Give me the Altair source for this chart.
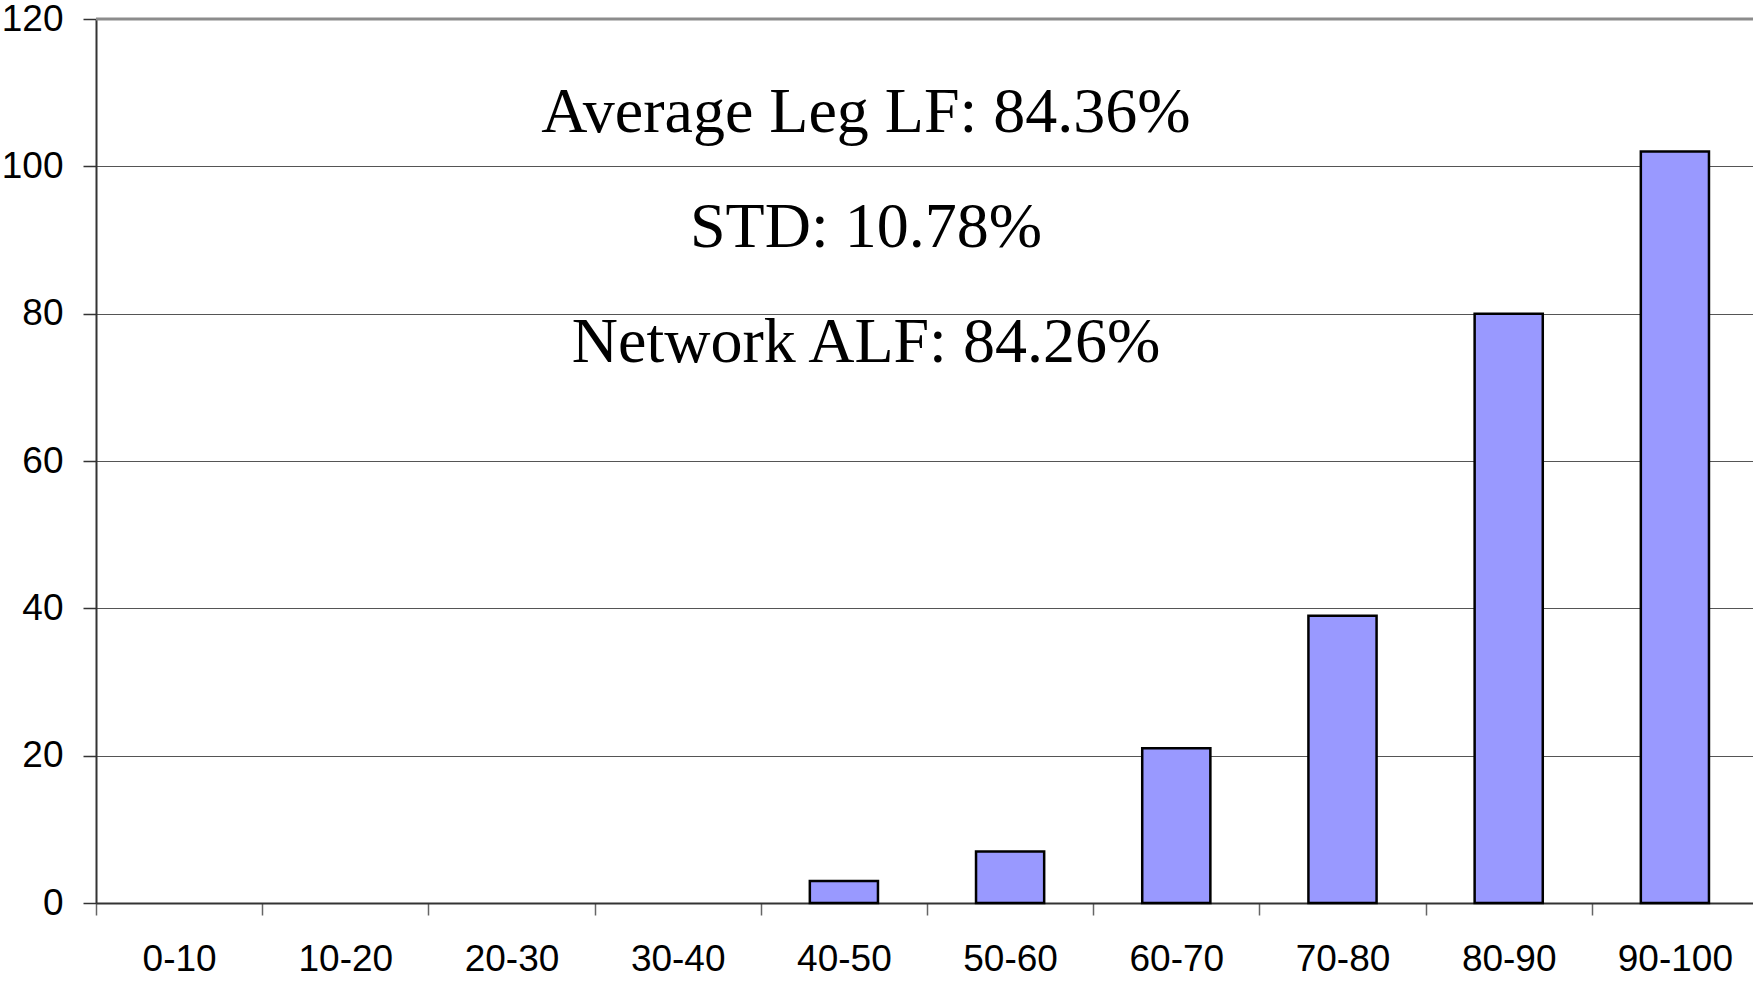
import altair as alt
import pandas as pd

categories = ["0-10", "10-20", "20-30", "30-40", "40-50", "50-60", "60-70", "70-80", "80-90", "90-100"]
counts = [0, 0, 0, 0, 3, 7, 21, 39, 80, 102]

notes = ["Average Leg LF: 84.36%", "STD: 10.78%", "Network ALF: 84.26%"]
note_levels = [104.7, 89.0, 73.5]

df = pd.DataFrame({"range": categories, "count": counts})
notes_df = pd.DataFrame({"text": notes, "level": note_levels})

W, H = 1662, 884

x_enc = alt.X(
    "range:N",
    sort=categories,
    scale=alt.Scale(domain=categories, paddingInner=0, paddingOuter=0),
    axis=alt.Axis(
        title=None,
        labelAngle=0,
        labelFont="Liberation Sans",
        labelFontSize=37,
        labelColor="black",
        labelPadding=26,
        tickBand="extent",
        tickSize=12,
        tickColor="#666666",
        tickWidth=1.5,
        domainColor="#333333",
        domainWidth=2,
        grid=False,
    ),
)
y_scale = alt.Scale(domain=[0, 120], nice=False)

bars = (
    alt.Chart(df)
    .transform_filter("datum.count > 0")
    .mark_bar(
        width=alt.RelativeBandSize(0.41),
        color="#9999ff",
        stroke="black",
        strokeWidth=2.5,
    )
    .encode(
        x=x_enc,
        y=alt.Y(
            "count:Q",
            scale=y_scale,
            axis=alt.Axis(
                title=None,
                values=[0, 20, 40, 60, 80, 100, 120],
                labelFont="Liberation Sans",
                labelFontSize=37,
                labelColor="black",
                labelPadding=20,
                tickSize=13,
                tickColor="#333333",
                tickWidth=1.5,
                domainColor="#333333",
                domainWidth=2,
                grid=True,
                gridColor="#555555",
                gridWidth=1.2,
            ),
        ),
    )
)

top_line = (
    alt.Chart(pd.DataFrame({"v": [120]}))
    .mark_rule(color="#8c8c8c", strokeWidth=3)
    .encode(y=alt.Y("v:Q", scale=y_scale))
)

texts = (
    alt.Chart(notes_df)
    .mark_text(
        font="Liberation Serif",
        fontSize=64,
        color="black",
        align="center",
        baseline="alphabetic",
    )
    .encode(
        x=alt.value(770),
        y=alt.Y("level:Q", scale=y_scale),
        text="text:N",
    )
)

chart = (
    alt.layer(bars, top_line, texts)
    .properties(
        width=W,
        height=H,
        autosize=alt.AutoSizeParams(type="none"),
        padding={"left": 96, "top": 19, "right": -5, "bottom": 81},
        background="white",
    )
    .configure_view(stroke=None)
)

chart.save("out.html", embed_options={"renderer": "svg", "actions": False})
